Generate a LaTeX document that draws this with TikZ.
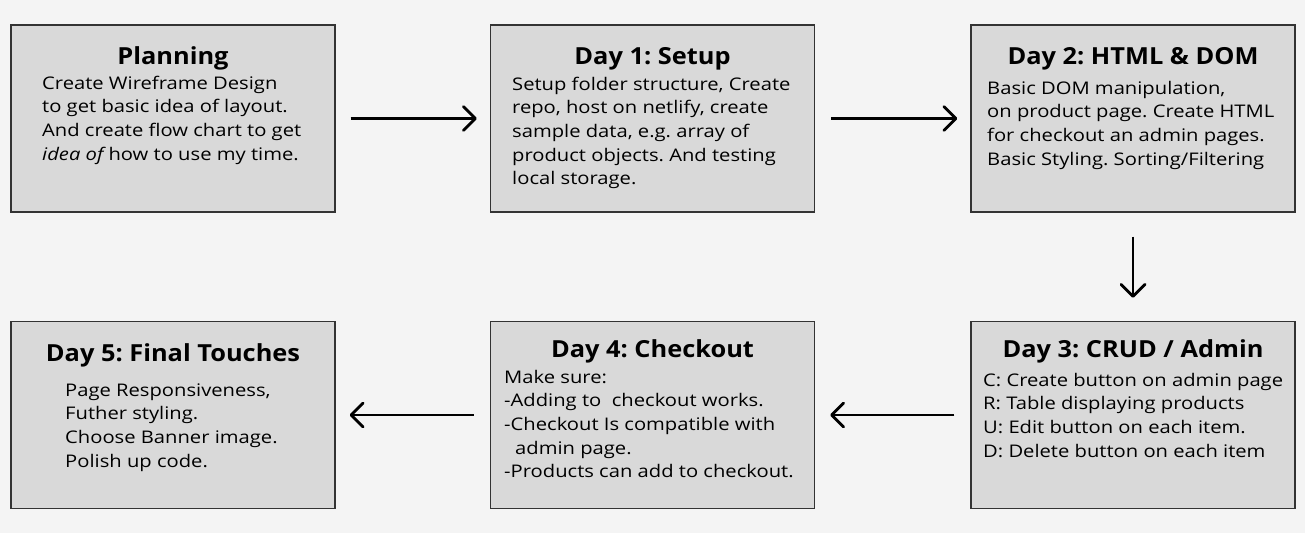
\documentclass[tikz,border=0pt]{standalone}
\usepackage{fontspec}
\setmainfont[FakeStretch=1.16]{Open Sans}
\newfontfamily\ttlfont[FakeStretch=1.08]{Open Sans}
\usetikzlibrary{arrows.meta}
\definecolor{bg}{HTML}{F4F4F4}
\definecolor{boxfill}{HTML}{D9D9D9}
\definecolor{boxline}{HTML}{333333}
\frenchspacing
\tikzset{
  box/.style={draw=boxline, line width=1.4pt, fill=boxfill, rectangle, inner sep=0pt, minimum width=324pt, minimum height=187pt},
  ttl/.style={anchor=base, inner sep=0pt, font=\ttlfont\fontsize{23.5}{27}\selectfont\bfseries},
  body/.style={anchor=north west, inner sep=0pt, align=left, font=\fontsize{17.4}{23.6}\selectfont},
  arr/.style={line width=2.8pt, -{Straight Barb[length=12pt,width=24pt,line cap=round,line join=round]}},
}
\begin{document}
\begin{tikzpicture}[x=1pt,y=-1pt]
\useasboundingbox (0,0) rectangle (1305,533);
\fill[bg] (0,0) rectangle (1305,533);
% boxes
\node[box] (plan) at (173,118.5) {};
\node[box] (d1) at (652.5,118.5) {};
\node[box] (d2) at (1133,118.5) {};
\node[box] (d5) at (173,415) {};
\node[box] (d4) at (652.5,415) {};
\node[box] (d3) at (1133,415) {};
% titles
\node[ttl] (tplan) at (173,64) {Planning};
\node[ttl] (td1) at (652.5,64) {Day 1: Setup};
\node[ttl] (td2) at (1133,64) {Day 2: HTML \& DOM};
\node[ttl] (td5) at (173,361.5) {Day 5: Final Touches};
\node[ttl] (td4) at (652.5,357.5) {Day 4: Checkout};
\node[ttl] (td3) at (1133,357.5) {Day 3: CRUD / Admin};
% bodies (first baseline = y + 0.7*23.6)
\node[body] (bplan) at (42,89-16.52) {\strut Create Wireframe Design\\to get basic idea of layout.\\And create flow chart to get\\{\itshape idea of} how to use my time.};
\node[body] (bd1) at (512,90-16.52) {\strut Setup folder structure, Create\\repo, host on netlify, create\\sample data, e.g. array of\\product objects. And testing\\local storage.};
\node[body] (bd2) at (987,94-16.52) {\strut Basic DOM manipulation,\\on product page. Create HTML\\for checkout an admin pages.\\Basic Styling. Sorting/Filtering};
\node[body] (bd5) at (65,396-16.52) {\strut Page Responsiveness,\\Futher styling.\\Choose Banner image.\\Polish up code.};
\node[body] (bd4) at (504,383-16.52) {\strut Make sure:\\-Adding to\ \ checkout works.\\-Checkout Is compatible with\\\hspace*{11pt}admin page.\\-Products can add to checkout.};
\node[body] (bd3) at (983,386-16.52) {\strut C: Create button on admin page\\R: Table displaying products\\U: Edit button on each item.\\D: Delete button on each item};
% arrows
\draw[arr, shorten <=15pt, shorten >=13pt] (plan.east) -- (d1.west);
\draw[arr, shorten <=16pt, shorten >=13pt] (d1.east) -- (d2.west);
\draw[arr, shorten <=24pt, shorten >=23pt] (d2.south) -- (d3.north);
\draw[arr, shorten <=16pt, shorten >=15pt] (d3.west) -- (d4.east);
\draw[arr, shorten <=16pt, shorten >=14pt] (d4.west) -- (d5.east);
\end{tikzpicture}
\end{document}
